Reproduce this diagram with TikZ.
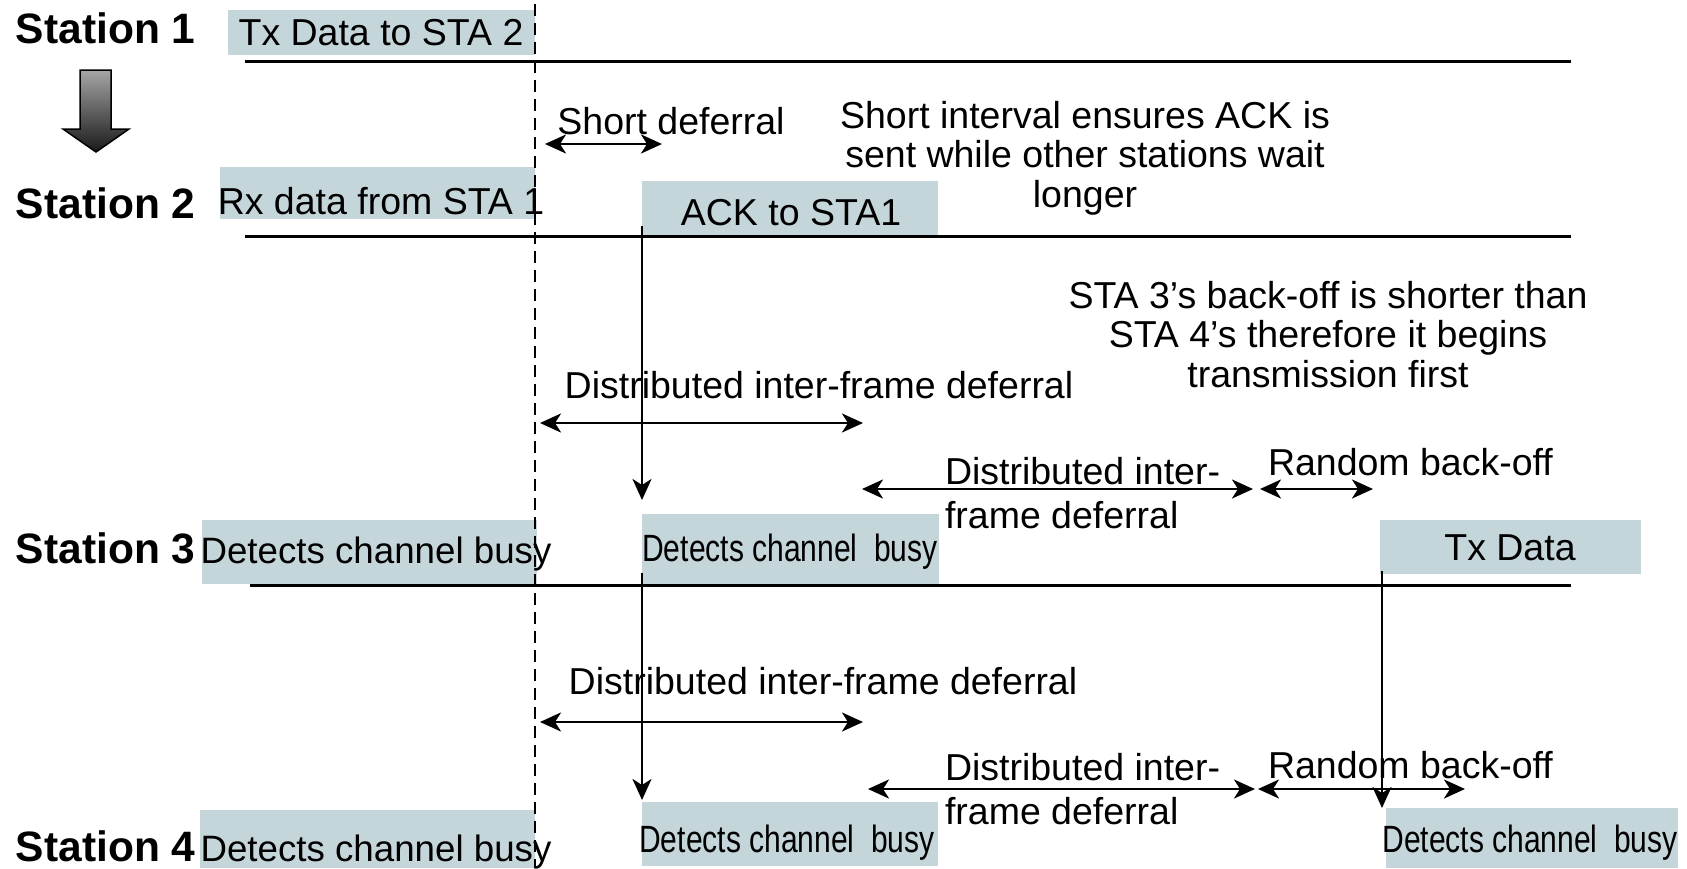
\documentclass[tikz,border=0pt]{standalone}
\usepackage{fontspec}
\setmainfont{Liberation Sans}
\newfontfamily\narrowfont[FakeStretch=0.79]{Liberation Sans}
\usetikzlibrary{arrows.meta}
\definecolor{slotfill}{RGB}{197,214,219}

\begin{document}
\begin{tikzpicture}[x=1pt,y=-1pt,
  every node/.style={inner sep=0pt, outer sep=0pt},
  txt/.style={font=\fontsize{37.5}{39.5}\selectfont},
  busytxt/.style={font=\fontsize{36.7}{39}\selectfont},
  twoline/.style={font=\fontsize{37.5}{44}\selectfont, align=left, anchor=north west},
  narrow/.style={font=\narrowfont\fontsize{38}{40}\selectfont},
  station/.style={font=\bfseries\fontsize{42.5}{44}\selectfont, anchor=base west},
  slot/.style={fill=slotfill, draw=none, anchor=north west},
  timeline/.style={line width=3pt},
  head/.tip={Stealth[length=21pt,width=19pt,inset=6pt]},
  tip/.style={-head, line width=2.7pt},
  span/.style={head-head, line width=2.7pt},
]
\useasboundingbox (0,0) rectangle (1687,868);

% channel activity slots
\node[slot, minimum width=307pt, minimum height=45pt] (s1) at (228,10) {};
\node[slot, minimum width=315pt, minimum height=52pt] (s2) at (220,167) {};
\node[slot, minimum width=296pt, minimum height=56pt] (s3) at (642,181) {};
\node[slot, minimum width=335pt, minimum height=64pt] (s4) at (202,520) {};
\node[slot, minimum width=297pt, minimum height=70pt] (s5) at (642,514) {};
\node[slot, minimum width=261pt, minimum height=54pt] (s6) at (1380,520) {};
\node[slot, minimum width=335pt, minimum height=58pt] (s7) at (200,810) {};
\node[slot, minimum width=296pt, minimum height=64pt] (s8) at (642,802) {};
\node[slot, minimum width=292pt, minimum height=60pt] (s9) at (1386,808) {};

% slot captions
\node[txt, anchor=base] (c1) at (381,45) {Tx Data to STA 2};
\node[txt, anchor=base] (c2) at (381,214) {Rx data from STA 1};
\node[txt, anchor=base] (c3) at (791,225) {ACK to STA1};
\node[busytxt, anchor=base] (c4) at (376,563) {Detects channel busy};
\node[narrow, anchor=base] (c5) at (790,561) {Detects channel\ \ busy};
\node[txt, anchor=base] (c6) at (1510,560) {Tx Data};
\node[busytxt, anchor=base] (c7) at (376,861) {Detects channel busy};
\node[narrow, anchor=base] (c8) at (787,852) {Detects channel\ \ busy};
\node[narrow, anchor=base] (c9) at (1530,852) {Detects channel\ \ busy};

% station names
\node[station] (st1) at (16,43) {Station 1};
\node[station] (st2) at (16,218) {Station 2};
\node[station] (st3) at (16,563) {Station 3};
\node[station] (st4) at (16,861) {Station 4};

% time lines
\coordinate (l1a) at (245,61);  \coordinate (l1b) at (1571,61);
\coordinate (l2a) at (245,236); \coordinate (l2b) at (1571,236);
\coordinate (l3a) at (250,585); \coordinate (l3b) at (1571,585);
\draw[timeline] (l1a) -- (l1b);
\draw[timeline] (l2a) -- (l2b);
\draw[timeline] (l3a) -- (l3b);

% end of the data frame
\coordinate (dt) at (535,4);
\coordinate (db) at (535,868);
\draw[line width=2.4pt, dash pattern=on 12pt off 7pt] (dt) -- (db);

% order of events
\shade[top color=black!35, bottom color=black!90, draw=black, line width=1.5pt]
  (80,70) -- (111,70) -- (111,129) -- (129,129) -- (96,152) -- (63,129) -- (80,129) -- cycle;

% short deferral before the ACK
\coordinate (sd1) at (545,144); \coordinate (sd2) at (662,144);
\draw[span] (sd1) -- (sd2);
\node[txt, anchor=base] (sdl) at (671,134) {Short deferral};
\node[txt, align=center, anchor=north] (note1) at (1085,101)
  {Short interval ensures ACK is\\sent while other stations wait\\longer};
\node[txt, align=center, anchor=north] (note2) at (1328,281)
  {STA 3’s back-off is shorter than\\STA 4’s therefore it begins\\transmission first};

% channel sensing arrows
\draw[tip] ([yshift=11pt]s3.south west) -- ([yshift=14pt]s5.north west);
\draw[tip] ([yshift=11pt]s5.south west) -- ([yshift=2pt]s8.north west);
\draw[tip] ([xshift=2pt,yshift=3pt]s6.south west) -- ([xshift=2pt]s6.south west |- s9.north);

% Station 3 deferrals
\coordinate (a1) at (540,423); \coordinate (a2) at (863,423);
\draw[span] (a1) -- (a2);
\node[txt, anchor=base] (al) at (819,398) {Distributed inter-frame deferral};
\coordinate (b1) at (862,489); \coordinate (b2) at (1253,489);
\draw[span] (b1) -- (b2);
\node[twoline] (bl) at (945,457) {Distributed inter-\\frame deferral};
\coordinate (r1) at (1260,489); \coordinate (r2) at (1373,489);
\draw[span] (r1) -- (r2);
\node[txt, anchor=base west] (rl) at (1268,475) {Random back-off};

% Station 4 deferrals
\coordinate (a3) at (540,722); \coordinate (a4) at (863,722);
\draw[span] (a3) -- (a4);
\node[txt, anchor=base] (al2) at (823,694) {Distributed inter-frame deferral};
\coordinate (b3) at (868,789); \coordinate (b4) at (1255,789);
\draw[span] (b3) -- (b4);
\node[twoline] (bl2) at (945,753) {Distributed inter-\\frame deferral};
\coordinate (r3) at (1258,789); \coordinate (r4) at (1465,789);
\draw[span] (r3) -- (r4);
\node[txt, anchor=base west] (rl2) at (1268,778) {Random back-off};
\end{tikzpicture}
\end{document}
